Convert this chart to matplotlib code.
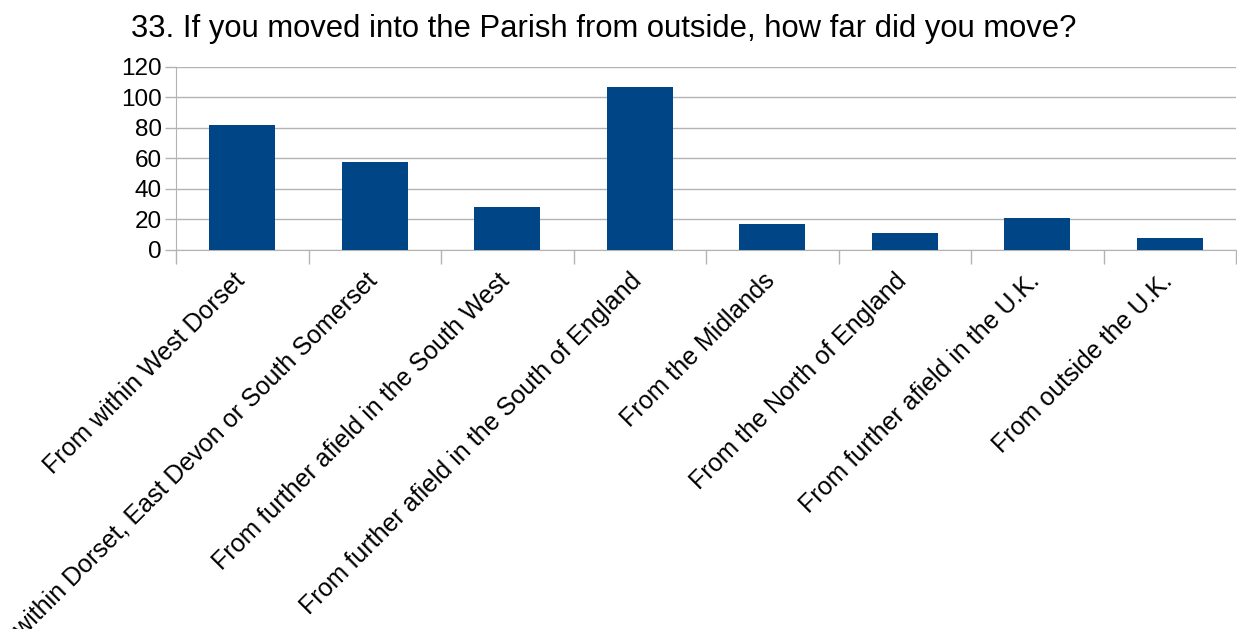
import matplotlib.pyplot as plt
import matplotlib.transforms as mtransforms
import numpy as np

plt.rcParams['font.family'] = ['Liberation Sans', 'DejaVu Sans']

# survey answers
categories = [
    "From within West Dorset",
    "From within Dorset, East Devon or South Somerset",
    "From further afield in the South West",
    "From further afield in the South of England",
    "From the Midlands",
    "From the North of England",
    "From further afield in the U.K.",
    "From outside the U.K.",
]
counts = [82, 58, 28, 107, 17, 11, 21, 8]
yticks = [0, 20, 40, 60, 80, 100, 120]

W, H = 1237, 629
fig = plt.figure(figsize=(W / 100, H / 100), dpi=100)
ax = fig.add_axes([176 / W, 1 - 250 / H, (1236 - 176) / W, (250 - 67) / H])

x = np.arange(len(categories))
ax.bar(x, counts, width=0.5, color="#004586", zorder=3)

ax.set_xlim(-0.5, len(categories) - 0.5)
ax.set_ylim(0, 120)
ax.set_yticks(yticks)
ax.yaxis.grid(True, color="#b3b3b3", linewidth=1, zorder=0)

# category boundary ticks (major) and labels at centres (minor)
ax.set_xticks(np.arange(len(categories) + 1) - 0.5)
ax.set_xticklabels([])
ax.set_xticks(x, minor=True)
ax.set_xticklabels(categories, minor=True, rotation=45, ha="right", va="top",
                   rotation_mode="anchor", fontsize=18)
ax.tick_params(axis="x", which="minor", length=0, pad=9)
ax.tick_params(axis="x", which="major", length=10, color="#b3b3b3", width=1)
ax.tick_params(axis="y", length=8, color="#b3b3b3", width=1, labelsize=17.5, pad=2)

# nudge the slanted labels a little left and down
shift = mtransforms.ScaledTranslation(-10 / 100, -6 / 100, fig.dpi_scale_trans)
for lbl in ax.get_xticklabels(minor=True):
    lbl.set_transform(lbl.get_transform() + shift)

for side in ["top", "right"]:
    ax.spines[side].set_visible(False)
ax.spines["bottom"].set_color("#b3b3b3")
ax.spines["left"].set_color("#b3b3b3")

fig.text(604 / W, 1 - 29 / H, "33. If you moved into the Parish from outside, how far did you move?",
         ha="center", va="center", fontsize=22.3)

fig.savefig("out.png", dpi=100)
